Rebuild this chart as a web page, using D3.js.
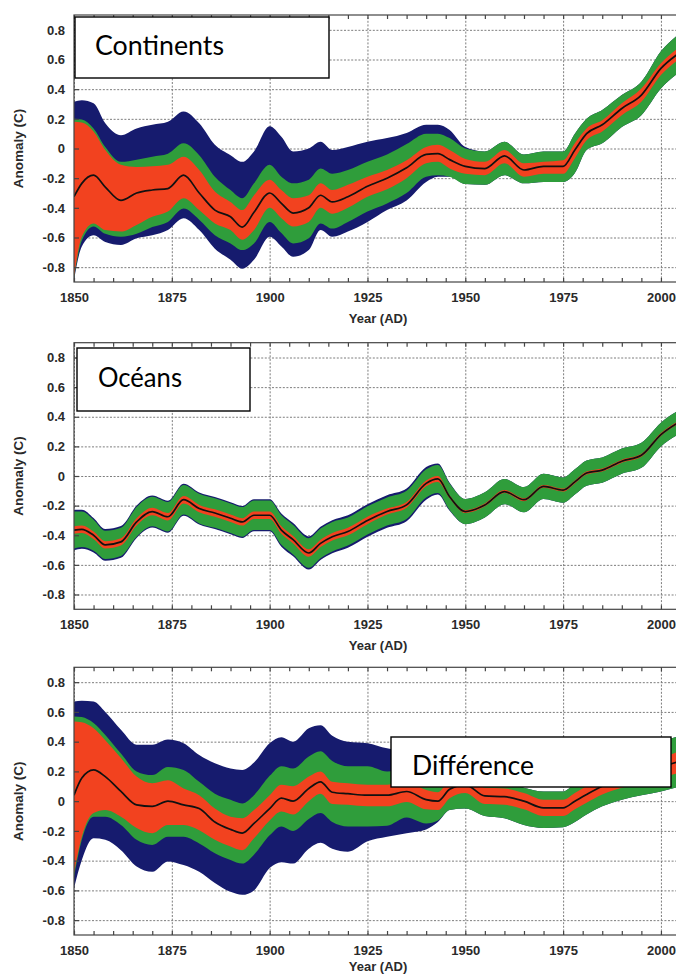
<!DOCTYPE html>
<html>
<head>
<meta charset="utf-8">
<script src="https://cdn.jsdelivr.net/npm/d3@7"></script>
<style>
  body { margin: 0; background: #fff; }
  svg { display: block; }
</style>
</head>
<body>
<div id="container"></div>
<script>
// years sampled along the smoothed curves (same knots for all three panels)
let years = [1850,1852,1855,1858,1862,1866,1870,1874,1878,1882,
  1886,1890,1893,1896,1900,1903,1906,1910,1913,1916,
  1920,1925,1930,1935,1940,1943,1946,1950,1955,1960,
  1965,1970,1975,1978,1981,1985,1990,1995,2000,2005];

// continents
let landMean = [-0.325,-0.235,-0.18,-0.26,-0.35,-0.30,-0.28,-0.27,-0.18,-0.30,
  -0.415,-0.46,-0.53,-0.43,-0.30,-0.37,-0.435,-0.40,-0.315,-0.36,
  -0.325,-0.255,-0.20,-0.13,-0.04,-0.035,-0.075,-0.12,-0.135,-0.05,
  -0.145,-0.12,-0.12,-0.01,0.10,0.16,0.27,0.36,0.54,0.65];
let landRedHi = [0.18,0.175,0.115,-0.01,-0.11,-0.125,-0.12,-0.11,-0.055,-0.145,
  -0.29,-0.36,-0.415,-0.315,-0.21,-0.28,-0.335,-0.315,-0.235,-0.28,
  -0.245,-0.19,-0.145,-0.08,0.01,0.025,-0.01,-0.07,-0.09,-0.01,
  -0.10,-0.09,-0.08,0.035,0.135,0.19,0.305,0.405,0.575,0.69];
let landRedLo = [-0.865,-0.595,-0.505,-0.55,-0.56,-0.515,-0.46,-0.425,-0.335,-0.415,
  -0.505,-0.55,-0.615,-0.55,-0.40,-0.47,-0.525,-0.495,-0.40,-0.44,
  -0.40,-0.325,-0.275,-0.20,-0.10,-0.09,-0.135,-0.17,-0.18,-0.10,
  -0.19,-0.17,-0.17,-0.065,0.055,0.115,0.225,0.315,0.495,0.61];
let landGreenHi = [0.20,0.195,0.135,0.01,-0.09,-0.075,-0.055,-0.035,0.035,-0.045,
  -0.19,-0.28,-0.335,-0.235,-0.11,-0.19,-0.235,-0.21,-0.135,-0.17,
  -0.145,-0.09,-0.04,0.03,0.10,0.10,0.07,0.0,-0.02,0.045,
  -0.04,-0.02,-0.02,0.10,0.20,0.26,0.36,0.45,0.655,0.78];
let landGreenLo = [-0.875,-0.62,-0.525,-0.575,-0.595,-0.575,-0.53,-0.495,-0.405,-0.48,
  -0.585,-0.64,-0.685,-0.64,-0.495,-0.57,-0.64,-0.605,-0.505,-0.54,
  -0.495,-0.425,-0.37,-0.30,-0.19,-0.18,-0.19,-0.24,-0.245,-0.18,
  -0.235,-0.225,-0.225,-0.165,-0.01,0.035,0.145,0.225,0.405,0.52];
let landBlueHi = [0.315,0.325,0.305,0.17,0.09,0.135,0.16,0.18,0.25,0.17,
  0.025,-0.045,-0.09,-0.02,0.15,0.08,-0.02,0.0,0.045,-0.01,
  0.01,0.045,0.07,0.105,0.16,0.16,0.125,0.01,-0.02,0.045,
  -0.04,-0.02,-0.02,0.10,0.20,0.26,0.36,0.45,0.655,0.78];
let landBlueLo = [-0.885,-0.66,-0.585,-0.63,-0.65,-0.605,-0.585,-0.55,-0.47,-0.55,
  -0.675,-0.75,-0.81,-0.75,-0.595,-0.66,-0.73,-0.685,-0.55,-0.595,
  -0.56,-0.495,-0.415,-0.35,-0.225,-0.19,-0.19,-0.24,-0.245,-0.18,
  -0.235,-0.225,-0.225,-0.165,-0.01,0.035,0.145,0.225,0.405,0.52];

// oceans
let seaMean = [-0.365,-0.36,-0.40,-0.465,-0.445,-0.31,-0.24,-0.275,-0.16,-0.22,
  -0.25,-0.285,-0.31,-0.265,-0.265,-0.365,-0.43,-0.52,-0.455,-0.41,
  -0.375,-0.30,-0.24,-0.195,-0.05,-0.02,-0.14,-0.24,-0.195,-0.105,
  -0.16,-0.07,-0.095,-0.04,0.02,0.04,0.10,0.14,0.28,0.37];
let seaRedHi = [-0.34,-0.335,-0.375,-0.44,-0.42,-0.285,-0.215,-0.25,-0.135,-0.195,
  -0.225,-0.26,-0.285,-0.24,-0.24,-0.34,-0.405,-0.495,-0.43,-0.385,
  -0.35,-0.275,-0.22,-0.175,-0.03,0.0,-0.13,-0.23,-0.185,-0.095,
  -0.15,-0.06,-0.085,-0.03,0.03,0.05,0.11,0.15,0.29,0.38];
let seaRedLo = [-0.39,-0.385,-0.425,-0.49,-0.47,-0.335,-0.265,-0.30,-0.185,-0.245,
  -0.275,-0.31,-0.335,-0.29,-0.29,-0.39,-0.455,-0.545,-0.48,-0.435,
  -0.40,-0.325,-0.26,-0.215,-0.07,-0.04,-0.15,-0.25,-0.205,-0.115,
  -0.17,-0.08,-0.105,-0.05,0.01,0.03,0.09,0.13,0.27,0.36];
let seaGreenHi = [-0.24,-0.24,-0.295,-0.37,-0.35,-0.21,-0.14,-0.175,-0.06,-0.12,
  -0.15,-0.185,-0.21,-0.165,-0.165,-0.265,-0.33,-0.42,-0.355,-0.31,
  -0.28,-0.205,-0.145,-0.10,0.045,0.075,-0.05,-0.155,-0.11,-0.02,
  -0.075,0.015,-0.01,0.045,0.105,0.125,0.185,0.225,0.36,0.45];
let seaGreenLo = [-0.49,-0.48,-0.505,-0.56,-0.54,-0.41,-0.34,-0.375,-0.26,-0.32,
  -0.35,-0.385,-0.41,-0.365,-0.365,-0.465,-0.53,-0.62,-0.555,-0.51,
  -0.47,-0.395,-0.335,-0.29,-0.145,-0.115,-0.23,-0.325,-0.28,-0.19,
  -0.245,-0.155,-0.18,-0.125,-0.065,-0.045,0.015,0.055,0.20,0.29];
let seaBlueHi = [-0.228,-0.228,-0.283,-0.358,-0.338,-0.20,-0.132,-0.167,-0.052,-0.112,
  -0.142,-0.177,-0.202,-0.157,-0.157,-0.253,-0.318,-0.408,-0.343,-0.298,
  -0.265,-0.19,-0.13,-0.085,0.06,0.085,-0.045,-0.155,-0.11,-0.02,
  -0.075,0.015,-0.01,0.045,0.105,0.125,0.185,0.225,0.36,0.45];
let seaBlueLo = [-0.502,-0.492,-0.517,-0.572,-0.552,-0.418,-0.348,-0.383,-0.268,-0.328,
  -0.358,-0.393,-0.418,-0.373,-0.373,-0.477,-0.542,-0.632,-0.567,-0.522,
  -0.485,-0.41,-0.35,-0.305,-0.16,-0.125,-0.235,-0.325,-0.28,-0.19,
  -0.245,-0.155,-0.18,-0.125,-0.065,-0.045,0.015,0.055,0.20,0.29];

// difference
let diffMean = [0.04,0.155,0.21,0.165,0.065,-0.025,-0.035,0.0,-0.025,-0.05,
  -0.14,-0.19,-0.215,-0.15,-0.05,0.02,0.0,0.085,0.13,0.06,
  0.05,0.04,0.04,0.065,0.01,0.0,0.08,0.11,0.035,0.03,
  0.0,-0.045,-0.045,0.0,0.045,0.10,0.15,0.19,0.23,0.27];
let diffRedHi = [0.535,0.53,0.49,0.41,0.29,0.165,0.12,0.14,0.085,0.04,
  -0.05,-0.105,-0.115,-0.06,0.04,0.11,0.10,0.165,0.20,0.13,
  0.12,0.11,0.11,0.13,0.075,0.06,0.14,0.165,0.09,0.085,
  0.055,0.01,0.01,0.055,0.10,0.155,0.21,0.25,0.29,0.34];
let diffRedLo = [-0.485,-0.24,-0.08,-0.06,-0.105,-0.18,-0.215,-0.16,-0.16,-0.195,
  -0.26,-0.305,-0.33,-0.25,-0.13,-0.07,-0.09,0.0,0.05,-0.02,
  -0.025,-0.035,-0.035,-0.005,-0.055,-0.06,0.02,0.055,-0.02,-0.025,
  -0.055,-0.10,-0.10,-0.055,-0.01,0.045,0.09,0.12,0.16,0.19];
let diffGreenHi = [0.57,0.565,0.525,0.445,0.32,0.20,0.175,0.23,0.21,0.13,
  0.05,0.01,-0.015,0.04,0.17,0.235,0.22,0.30,0.335,0.27,
  0.235,0.235,0.20,0.215,0.16,0.15,0.22,0.24,0.15,0.14,
  0.09,0.065,0.065,0.12,0.18,0.25,0.31,0.36,0.40,0.44];
let diffGreenLo = [-0.51,-0.26,-0.105,-0.105,-0.16,-0.26,-0.295,-0.24,-0.24,-0.285,
  -0.35,-0.395,-0.42,-0.36,-0.23,-0.17,-0.20,-0.12,-0.08,-0.14,
  -0.17,-0.17,-0.165,-0.11,-0.15,-0.13,-0.06,-0.05,-0.10,-0.115,
  -0.16,-0.18,-0.175,-0.14,-0.09,-0.035,0.01,0.04,0.065,0.10];
let diffBlueHi = [0.67,0.675,0.67,0.60,0.48,0.38,0.38,0.415,0.39,0.31,
  0.255,0.22,0.21,0.26,0.39,0.43,0.40,0.49,0.51,0.44,
  0.40,0.39,0.355,0.33,0.30,0.25,0.23,0.24,0.15,0.14,
  0.09,0.065,0.065,0.12,0.18,0.25,0.31,0.36,0.40,0.44];
let diffBlueLo = [-0.585,-0.395,-0.25,-0.26,-0.33,-0.44,-0.475,-0.405,-0.43,-0.475,
  -0.55,-0.61,-0.63,-0.60,-0.45,-0.41,-0.42,-0.32,-0.28,-0.32,
  -0.34,-0.27,-0.24,-0.215,-0.19,-0.14,-0.06,-0.05,-0.10,-0.115,
  -0.16,-0.18,-0.175,-0.14,-0.09,-0.035,0.01,0.04,0.065,0.10];

// ticks
let yearTicks = [1850, 1875, 1900, 1925, 1950, 1975, 2000];
let minorYearTicks = d3.range(1850, 2006, 5);
let anomalyTicks = [-0.8, -0.6, -0.4, -0.2, 0, 0.2, 0.4, 0.6, 0.8];
let titles = ["Continents", "Océans", "Différence"];

let w = 676;
let h = 974;

let blue = "#161b6e";
let green = "#2f9d3b";
let red = "#f2421f";

let viz = d3.select("#container")
  .append("svg")
    .attr("width", w)
    .attr("height", h)
    .style("background-color", "white")
;

let xScale = d3.scaleLinear().domain([1850, 2005]).range([74, 680.5]);

let panels = [
  { top: 15, bottom: 282, title: titles[0],
    box: [75, 17, 254, 61], tx: 95, ty: 55, tw: 129,
    mean: landMean, red: [landRedLo, landRedHi], green: [landGreenLo, landGreenHi], blue: [landBlueLo, landBlueHi] },
  { top: 342.7, bottom: 609.3, title: titles[1],
    box: [77, 348, 173, 63], tx: 98, ty: 387, tw: 84,
    mean: seaMean, red: [seaRedLo, seaRedHi], green: [seaGreenLo, seaGreenHi], blue: [seaBlueLo, seaBlueHi] },
  { top: 667.3, bottom: 935, title: titles[2],
    box: [391, 737, 280, 50], tx: 412, ty: 775, tw: 122,
    mean: diffMean, red: [diffRedLo, diffRedHi], green: [diffGreenLo, diffGreenHi], blue: [diffBlueLo, diffBlueHi] }
];

let tickFont = "'Liberation Sans', Arial, Helvetica, sans-serif";

panels.forEach(function(p, pi){
  let g = viz.append("g").attr("class", "panel");
  let yScale = d3.scaleLinear().domain([-0.9, 0.9]).range([p.bottom, p.top]);
  let x0 = xScale.range()[0];
  let x1 = xScale.range()[1];

  // clip to the plot area
  let clipId = "clip" + pi;
  g.append("clipPath").attr("id", clipId)
    .append("rect")
      .attr("x", x0).attr("y", p.top)
      .attr("width", x1 - x0).attr("height", p.bottom - p.top);

  // dotted grid
  let xGrid = d3.axisBottom(xScale).tickValues(yearTicks).tickSize(-(p.bottom - p.top)).tickFormat("");
  let yGrid = d3.axisLeft(yScale).tickValues(anomalyTicks).tickSize(-(x1 - x0)).tickFormat("");
  let gx = g.append("g").attr("transform", "translate(0," + p.bottom + ")").call(xGrid);
  let gy = g.append("g").attr("transform", "translate(" + x0 + ",0)").call(yGrid);
  [gx, gy].forEach(function(s){
    s.select(".domain").remove();
    s.selectAll("line")
      .attr("stroke", "#7d7d7d")
      .attr("stroke-width", 1)
      .attr("stroke-dasharray", "2,1.6");
  });

  // bands: widest (blue) behind, then green, then red
  function rows(lo, hi){
    return years.map(function(yr, i){ return { year: yr, lo: lo[i], hi: hi[i] }; });
  }
  let area = d3.area()
    .x(function(d){ return xScale(d.year); })
    .y0(function(d){ return yScale(d.lo); })
    .y1(function(d){ return yScale(d.hi); })
    .curve(d3.curveMonotoneX);

  let bands = g.append("g").attr("clip-path", "url(#" + clipId + ")");
  bands.append("path").datum(rows(p.blue[0], p.blue[1])).attr("d", area).attr("fill", blue);
  bands.append("path").datum(rows(p.green[0], p.green[1])).attr("d", area).attr("fill", green);
  bands.append("path").datum(rows(p.red[0], p.red[1])).attr("d", area).attr("fill", red);

  let line = d3.line()
    .x(function(d, i){ return xScale(years[i]); })
    .y(function(d){ return yScale(d); })
    .curve(d3.curveMonotoneX);
  bands.append("path").datum(p.mean).attr("d", line)
    .attr("fill", "none").attr("stroke", "#111").attr("stroke-width", 1.7);

  // frame
  g.append("rect")
    .attr("x", x0).attr("y", p.top)
    .attr("width", x1 - x0).attr("height", p.bottom - p.top)
    .attr("fill", "none").attr("stroke", "#444").attr("stroke-width", 1.2);

  // minor ticks, inward, top and bottom
  let minorBottom = d3.axisBottom(xScale).tickValues(minorYearTicks).tickSize(-4).tickFormat("");
  let minorTop = d3.axisTop(xScale).tickValues(minorYearTicks).tickSize(-4).tickFormat("");
  let mb = g.append("g").attr("transform", "translate(0," + p.bottom + ")").call(minorBottom);
  let mt = g.append("g").attr("transform", "translate(0," + p.top + ")").call(minorTop);
  [mb, mt].forEach(function(s){
    s.select(".domain").remove();
    s.selectAll("line").attr("stroke", "#444").attr("stroke-width", 1.2);
  });
  let yTicks = d3.axisRight(yScale).tickValues(anomalyTicks).tickSize(5).tickFormat("");
  let yt = g.append("g").attr("transform", "translate(" + x0 + ",0)").call(yTicks);
  yt.select(".domain").remove();
  yt.selectAll("line").attr("stroke", "#444").attr("stroke-width", 1.2);

  // tick labels
  let xAxis = d3.axisBottom(xScale).tickValues(yearTicks).tickSize(0).tickPadding(10.5).tickFormat(d3.format("d"));
  let xa = g.append("g").attr("transform", "translate(0," + p.bottom + ")").call(xAxis);
  let yAxis = d3.axisLeft(yScale).tickValues(anomalyTicks).tickSize(0).tickPadding(9)
    .tickFormat(function(d){ return d === 0 ? "0" : d.toFixed(1); });
  let ya = g.append("g").attr("transform", "translate(" + x0 + ",0)").call(yAxis);
  [xa, ya].forEach(function(s){
    s.select(".domain").remove();
    s.selectAll("text")
      .attr("font-family", tickFont)
      .attr("font-size", "13px")
      .attr("font-weight", "bold")
      .attr("fill", "#2a2a2a");
  });

  // axis titles (the last one sits right at the page bottom)
  g.append("text")
    .text("Year (AD)")
    .attr("x", 378).attr("y", Math.min(p.bottom + 41, h - 3))
    .attr("text-anchor", "middle")
    .attr("font-family", tickFont).attr("font-size", "13px")
    .attr("font-weight", "bold").attr("fill", "#2a2a2a");
  g.append("text")
    .text("Anomaly (C)")
    .attr("transform", "translate(23," + ((p.top + p.bottom) / 2) + ") rotate(-90)")
    .attr("text-anchor", "middle")
    .attr("font-family", tickFont).attr("font-size", "13.5px")
    .attr("font-weight", "bold").attr("fill", "#2a2a2a");

  // title box
  g.append("rect")
    .attr("x", p.box[0]).attr("y", p.box[1])
    .attr("width", p.box[2]).attr("height", p.box[3])
    .attr("fill", "white").attr("stroke", "black").attr("stroke-width", 1.4);
  g.append("text")
    .text(p.title)
    .attr("x", p.tx).attr("y", p.ty)
    .attr("font-family", "Lato, 'Open Sans', sans-serif")
    .attr("font-size", "27px")
    .attr("textLength", p.tw)
    .attr("lengthAdjust", "spacingAndGlyphs")
    .attr("fill", "black");
});
</script>
</body>
</html>
